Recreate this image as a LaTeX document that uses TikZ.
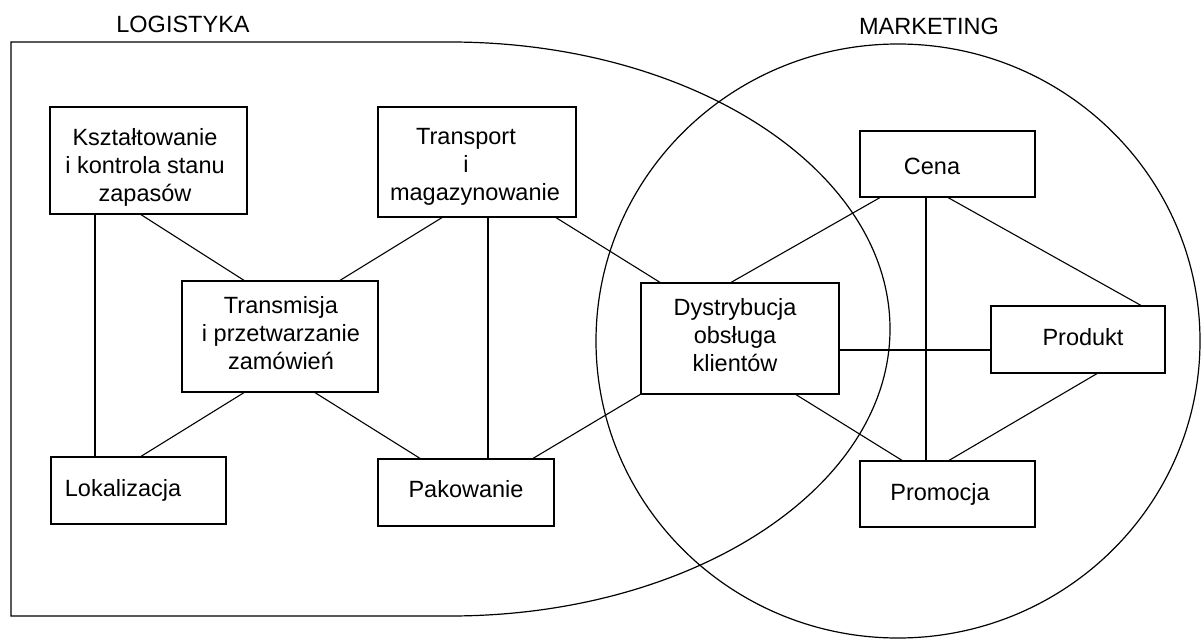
\documentclass[tikz,border=0pt]{standalone}
\usepackage{fontspec}
\setmainfont{Liberation Sans}
\usetikzlibrary{calc}
\begin{document}
\begin{tikzpicture}[x=1pt,y=-1pt,line width=1.2pt,
  box/.style={draw,rectangle,line width=1.5pt,inner sep=0pt,outer sep=0pt},
  txt/.style={font=\fontsize{23.5}{28}\selectfont,inner sep=0pt,outer sep=0pt,align=center},
  link/.style={draw,line width=1.1pt}]
\useasboundingbox (0,0) rectangle (1201,639);
% areas
\draw (11,42) -- (450,42) arc[start angle=90,end angle=-90,x radius=440pt,y radius=287pt] -- (11,616) -- cycle;
\draw (898,341) ellipse[x radius=302pt,y radius=297pt];
\node[txt,anchor=base] (logt) at (183,33) {LOGISTYKA};
\node[txt,anchor=base] (markt) at (929,35) {MARKETING};
% boxes
\node[box,minimum width=197pt,minimum height=107pt] (kszt) at (148.5,160.5) {};
\node[box,minimum width=198pt,minimum height=110pt] (trans) at (477,162) {};
\node[box,minimum width=196pt,minimum height=111pt] (transm) at (280,336.5) {};
\node[box,minimum width=175pt,minimum height=67pt] (lok) at (138.5,490.5) {};
\node[box,minimum width=176pt,minimum height=67pt] (pak) at (466,492.5) {};
\node[box,minimum width=198pt,minimum height=111pt] (dys) at (740,338.5) {};
\node[box,minimum width=175pt,minimum height=66pt] (cena) at (947.5,164) {};
\node[box,minimum width=174pt,minimum height=67pt] (prod) at (1078,339.5) {};
\node[box,minimum width=175pt,minimum height=66pt] (prom) at (947.5,494) {};
% texts
\node[txt] (kszt-t) at (145,167) {Kształtowanie\\i kontrola stanu\\zapasów};
\node[txt] (trans-t) at (475,167) {Transport\kern18pt\\i\kern18pt\\magazynowanie};
\node[txt] (transm-t) at (281,333) {Transmisja\\i przetwarzanie\\zamówień};
\node[txt,anchor=base] (lok-t) at (123,496) {Lokalizacja};
\node[txt,anchor=base] (pak-t) at (466,497) {Pakowanie};
\node[txt] (dys-t) at (735,335) {Dystrybucja\\obsługa\\klientów};
\node[txt,anchor=base] (cena-t) at (932,175) {Cena};
\node[txt,anchor=base] (prod-t) at (1083,345) {Produkt};
\node[txt,anchor=base] (prom-t) at (940,500) {Promocja};
% links
\path[link] ([xshift=45pt]kszt.south west) -- ([xshift=44pt]lok.north west);
\path[link] ([xshift=90pt]kszt.south west) -- ([xshift=63pt]transm.north west);
\path[link] ([xshift=65pt]trans.south west) -- ([xshift=157pt]transm.north west);
\path[link] ([xshift=110pt]trans.south west) -- ([xshift=110pt]pak.north west);
\path[link] ([xshift=177pt]trans.south west) -- ([xshift=20pt]dys.north west);
\path[link] ([xshift=63pt]transm.south west) -- ([xshift=89pt]lok.north west);
\path[link] ([xshift=132pt]transm.south west) -- ([xshift=43pt]pak.north west);
\path[link] ([xshift=154pt]pak.north west) -- (dys.south west);
\path[link] ([xshift=21pt]cena.south west) -- ([xshift=89pt]dys.north west);
\path[link] ([xshift=66pt]cena.south west) -- ([xshift=66pt]prom.north west);
\path[link] ([xshift=87pt]cena.south west) -- ([xshift=151pt]prod.north west);
\path[link] ([yshift=-11.5pt]dys.east) -- ([yshift=-10.5pt]prod.west);
\path[link] ([xshift=154pt]dys.south west) -- ([xshift=43pt]prom.north west);
\path[link] ([xshift=107pt]prod.south west) -- ([xshift=88pt]prom.north west);
\end{tikzpicture}
\end{document}
